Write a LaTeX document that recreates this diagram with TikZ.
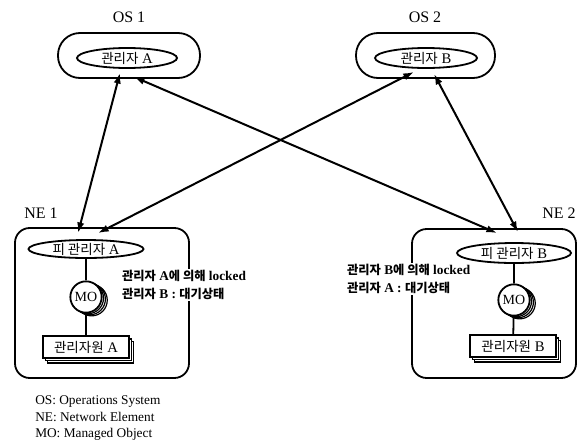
\documentclass[tikz,border=0pt]{standalone}
\usepackage{fontspec}
\setmainfont{Liberation Serif}
\newfontfamily\krfont{Noto Sans CJK KR}[Scale=0.92]
\usetikzlibrary{shapes.geometric,shadows,calc,arrows.meta,backgrounds}
\newcommand\hg[1]{{\krfont #1}}

\begin{document}
\begin{tikzpicture}[x=0.75pt,y=-0.75pt,
  lw/.style={line width=1.35pt},
  osbox/.style={draw, lw, rounded corners=16.5pt, minimum height=33.75pt, inner sep=0pt},
  nebox/.style={draw, lw, rounded corners=11pt, inner sep=0pt},
  mgr/.style={draw, lw, ellipse, inner sep=0pt, minimum height=15pt},
  mo/.style={draw, lw, circle, fill=white, minimum size=23.5pt, inner sep=0pt,
    font=\fontsize{10.5}{12}\selectfont,
    copy shadow={shadow xshift=4.2pt, shadow yshift=-2.4pt, line width=0.9pt},
    copy shadow={shadow xshift=2.8pt, shadow yshift=-1.6pt, line width=0.9pt},
    copy shadow={shadow xshift=1.4pt, shadow yshift=-0.8pt, line width=0.9pt}},
  res/.style={draw, lw, fill=white, minimum width=64.5pt, minimum height=16pt, inner sep=0pt,
    font=\fontsize{11}{13}\selectfont,
    copy shadow={shadow xshift=3.6pt, shadow yshift=-4pt, line width=0.9pt},
    copy shadow={shadow xshift=1.8pt, shadow yshift=-2pt, line width=0.9pt}},
  title/.style={font=\fontsize{12}{14}\selectfont},
  lbl/.style={font=\fontsize{11}{13}\selectfont},
  note/.style={fill=white, align=left, inner sep=1pt, anchor=west,
    font=\fontsize{10}{13.5}\selectfont\bfseries},
  legend/.style={anchor=base west, inner sep=0pt, font=\fontsize{10}{12}\selectfont},
  link/.style={line width=1.5pt, {Latex[length=8pt,width=5.5pt]}-{Latex[length=8pt,width=5.5pt]}},
  tie/.style={lw}
]
\useasboundingbox (0,0) rectangle (580,443);

% operations systems
\node[title] (os1t) at (129,17) {OS 1};
\node[title] (os2t) at (425,17) {OS 2};
\node[osbox, minimum width=106.5pt] (os1) at (129,55.5) {};
\node[osbox, minimum width=104.25pt] (os2) at (425.5,55.5) {};
\node[mgr, minimum width=75pt, label={[lbl]center:\hg{관리자} A}] (m1) at (127,58) {};
\node[mgr, minimum width=76.5pt, label={[lbl]center:\hg{관리자} B}] (m2) at (426,58) {};

% network elements
\node[title] (ne1t) at (41,213) {NE 1};
\node[title] (ne2t) at (559,213) {NE 2};
\node[nebox, minimum width=130.5pt, minimum height=112.5pt] (ne1) at (102,303) {};
\node[nebox, minimum width=123pt, minimum height=111.75pt] (ne2) at (494,303.5) {};

\node[mgr, minimum width=86.25pt, minimum height=13.5pt,
      label={[lbl]center:\hg{피 관리자} A}] (n1) at (86,249) {};
\node[mgr, minimum width=85.5pt,
      label={[lbl]center:\hg{피 관리자} B}] (n2) at (514,253) {};

\node[mo] (mo1) at (86,297) {MO};
\node[mo] (mo2) at (514,300) {MO};

\node[res] (r1) at (86,347) {\hg{관리자원} A};
\node[res] (r2) at (513,346) {\hg{관리자원} B};

\begin{scope}[on background layer]
  \draw[tie] (n1) -- (mo1) -- (r1);
  \draw[tie] (n2) -- (mo2) -- (r2);
\end{scope}

% lock state notes
\node[note] (s1) at (120.5,285) {\hg{관리자} A\hg{에 의해} locked\\\hg{관리자} B : \hg{대기상태}};
\node[note] (s2) at (345.5,279) {\hg{관리자} B\hg{에 의해} locked\\\hg{관리자} A : \hg{대기상태}};

% management associations
\draw[link] ($(m1.south)+(-7,4)$) -- ($(n1.north)+(-8,-6)$);
\draw[link] ($(m1.south)+(7,8)$) -- ($(n2.north)+(-17,-9)$);
\draw[link] ($(m2.south)+(-12,3)$) -- ($(n1.north)+(12,-6)$);
\draw[link] ($(m2.south)+(8,5)$) -- ($(n2.north)+(4,-10)$);

% legend
\node[legend] (lg1) at (35,404) {OS: Operations System};
\node[legend] (lg2) at (35,421) {NE: Network Element};
\node[legend] (lg3) at (35,437) {MO: Managed Object};
\end{tikzpicture}
\end{document}
